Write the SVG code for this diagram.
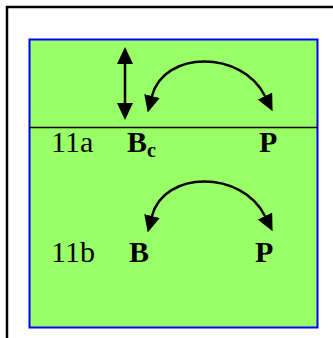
<svg xmlns="http://www.w3.org/2000/svg" width="333" height="338" viewBox="0 0 333 338">
  <style>
    .lbl { font-family: "Liberation Serif", "Times New Roman", serif; font-size: 30px; fill: #000; }
    .b { font-weight: bold; }
    .conn { fill: none; stroke: #000; stroke-width: 2.5; }
  </style>
  <defs>
    <marker id="ah" viewBox="0 0 17 16" refX="0" refY="8" markerWidth="17" markerHeight="16" markerUnits="userSpaceOnUse" orient="auto-start-reverse">
      <path d="M0,0 L17,8 L0,16 z" fill="#000"/>
    </marker>
  </defs>
  <rect width="333" height="338" fill="#fff"/>
  <path d="M7,338 V7 H333" fill="none" stroke="#000" stroke-width="2.5"/>
  <g id="panel">
    <rect x="29.5" y="39.5" width="288" height="288" fill="#99FF66" stroke="#0000FF" stroke-width="2"/>
    <line x1="29" y1="127.5" x2="318" y2="127.5" stroke="#000" stroke-width="1.5"/>
  </g>
  <g id="row11a">
    <text class="lbl" x="51" y="152">11a</text>
    <g id="node-Bc"><text class="lbl b" x="127" y="152">B<tspan font-size="20" dy="5">c</tspan></text></g>
    <g id="node-P1"><text class="lbl b" x="259" y="152">P</text></g>
  </g>
  <g id="row11b">
    <text class="lbl" x="51" y="262">11b</text>
    <g id="node-B"><text class="lbl b" x="129" y="262">B</text></g>
    <g id="node-P2"><text class="lbl b" x="255" y="262">P</text></g>
  </g>
  <g id="connectors">
    <line class="conn" x1="125" y1="64" x2="125" y2="103" marker-start="url(#ah)" marker-end="url(#ah)"/>
    <path class="conn" d="M152,96 C164,50 242,50 265,96" marker-start="url(#ah)" marker-end="url(#ah)"/>
    <path class="conn" d="M152,216 C164,170 242,170 265,216" marker-start="url(#ah)" marker-end="url(#ah)"/>
  </g>
</svg>
